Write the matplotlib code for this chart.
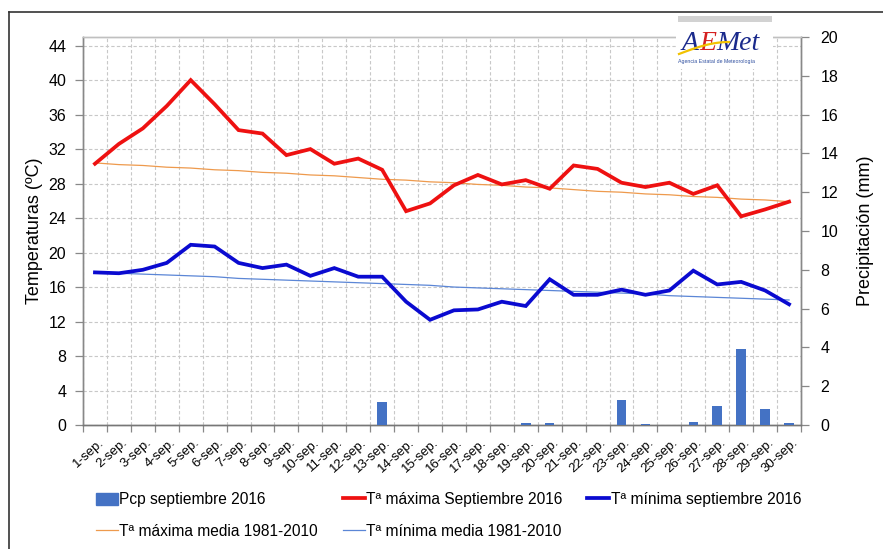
import matplotlib
matplotlib.use("Agg")
import matplotlib.pyplot as plt
import numpy as np
from matplotlib.lines import Line2D
from matplotlib.patches import Patch, Rectangle
from matplotlib.transforms import ScaledTranslation

plt.rcParams['font.family'] = ['Liberation Sans', 'DejaVu Sans']

days = ["1-sep.", "2-sep.", "3-sep.", "4-sep.", "5-sep.", "6-sep.", "7-sep.", "8-sep.",
        "9-sep.", "10-sep.", "11-sep.", "12-sep.", "13-sep.", "14-sep.", "15-sep.",
        "16-sep.", "17-sep.", "18-sep.", "19-sep.", "20-sep.", "21-sep.", "22-sep.",
        "23-sep.", "24-sep.", "25-sep.", "26-sep.", "27-sep.", "28-sep.", "29-sep.", "30-sep."]

tmax = [30.3, 32.6, 34.4, 37.0, 40.0, 37.2, 34.2, 33.8, 31.3, 32.0, 30.3, 30.9, 29.6, 24.8, 25.7,
        27.8, 29.0, 27.9, 28.4, 27.4, 30.1, 29.7, 28.1, 27.6, 28.1, 26.8, 27.8, 24.2, 25.0, 25.9]
tmin = [17.7, 17.6, 18.0, 18.8, 20.9, 20.7, 18.8, 18.2, 18.6, 17.3, 18.2, 17.2, 17.2, 14.3, 12.2,
        13.3, 13.4, 14.3, 13.8, 16.9, 15.1, 15.1, 15.7, 15.1, 15.6, 17.9, 16.3, 16.6, 15.6, 14.0]
tmax_media = [30.4, 30.2, 30.1, 29.9, 29.8, 29.6, 29.5, 29.3, 29.2, 29.0, 28.9, 28.7, 28.5, 28.4, 28.2,
              28.1, 27.9, 27.8, 27.6, 27.5, 27.3, 27.1, 27.0, 26.8, 26.7, 26.5, 26.4, 26.2, 26.1, 25.9]
tmin_media = [17.7, 17.6, 17.5, 17.4, 17.3, 17.2, 17.0, 16.9, 16.8, 16.7, 16.6, 16.5, 16.4, 16.3, 16.2,
              16.0, 15.9, 15.8, 15.7, 15.6, 15.5, 15.4, 15.3, 15.2, 15.0, 14.9, 14.8, 14.7, 14.6, 14.5]
pcp = [0, 0, 0, 0, 0, 0, 0, 0, 0, 0, 0, 0, 1.2, 0, 0, 0, 0, 0, 0.1, 0.1,
       0, 0, 1.3, 0.05, 0, 0.17, 1.0, 3.9, 0.82, 0.1]

temp_ticks = [0, 4, 8, 12, 16, 20, 24, 28, 32, 36, 40, 44]
pcp_ticks = [0, 2, 4, 6, 8, 10, 12, 14, 16, 18, 20]

W, H = 883, 549
fig = plt.figure(figsize=(W / 100, H / 100), dpi=100)
fig.patch.set_facecolor('white')

L, R, T, B = 83, 801, 37, 425
ax = fig.add_axes([L / W, 1 - B / H, (R - L) / W, (B - T) / H])
ax2 = ax.twinx()
ax.set_zorder(1)
ax2.set_zorder(2)
ax2.patch.set_visible(False)

x = np.arange(len(days))

ax.plot(x, tmax_media, color='#ee9a4d', lw=0.9, zorder=3)
ax.plot(x, tmin_media, color='#5b86d6', lw=0.9, zorder=3)
ax.plot(x, tmax, color='#ee1111', lw=2.7, zorder=4, solid_joinstyle='miter')
ax.plot(x, tmin, color='#0a0ad0', lw=2.7, zorder=4, solid_joinstyle='miter')

ax2.bar(x, pcp, width=0.4, color='#4472c4', zorder=3)

ax.set_xlim(-0.5, len(days) - 0.5)
ax.set_ylim(0, 45)
ax2.set_ylim(0, 20)
ax.set_yticks(temp_ticks)
ax2.set_yticks(pcp_ticks)

ax.set_xticks(x)
ax.set_xticklabels(days, rotation=42, ha='right', va='top', rotation_mode='anchor', fontsize=9.5)
ax.set_xticks(np.arange(-0.5, len(days), 1.0), minor=True)
ax.tick_params(axis='x', which='major', length=0, pad=8)
ax.tick_params(axis='x', which='minor', length=5, color='#888888', width=0.9)
for lab in ax.get_xticklabels():
    lab.set_transform(lab.get_transform() + ScaledTranslation(0.03, 0, fig.dpi_scale_trans))

ax.tick_params(axis='y', which='major', length=6, color='#888888', width=0.9, labelsize=11.5, pad=6)
ax2.tick_params(axis='y', which='major', length=6, color='#888888', width=0.9, labelsize=11.5, pad=8)

ax.grid(True, which='major', axis='y', color='#c8c8c8', lw=0.8, ls=(0, (3, 2)))
ax.grid(True, which='minor', axis='x', color='#c8c8c8', lw=0.8, ls=(0, (3, 2)))
ax.set_axisbelow(True)

for a in (ax, ax2):
    a.spines['left'].set_color('#888888')
    a.spines['right'].set_color('#888888')
    a.spines['bottom'].set_color('#777777')
    a.spines['top'].set_color('#c0c0c0')
    for s in a.spines.values():
        s.set_linewidth(1.0)

ax.set_ylabel('Temperaturas (ºC)', fontsize=13)
ax.yaxis.set_label_coords(-(L - 43) / (R - L), 0.5)
ax2.set_ylabel('Precipitación (mm)', fontsize=13, rotation=90)
ax2.yaxis.set_label_coords(1 + (857 - R) / (R - L), 0.5)

# legend
h_pcp = Patch(color='#4472c4')
h_tmax = Line2D([], [], color='#ee1111', lw=2.7)
h_tmin = Line2D([], [], color='#0a0ad0', lw=2.7)
h_tmaxm = Line2D([], [], color='#ee9a4d', lw=0.9)
h_tminm = Line2D([], [], color='#5b86d6', lw=0.9)
handles = [h_pcp, h_tmaxm, h_tmax, h_tminm, h_tmin]
labels = ['Pcp septiembre 2016', 'Tª máxima media 1981-2010', 'Tª máxima Septiembre 2016',
          'Tª mínima media 1981-2010', 'Tª mínima septiembre 2016']
fig.legend(handles, labels, ncol=3, loc='upper left', bbox_to_anchor=(96 / W, 1 - 492 / H),
           frameon=False, fontsize=11.2, handlelength=1.4, handleheight=0.8, handletextpad=0.1,
           columnspacing=1.6, labelspacing=1.1, borderaxespad=0, borderpad=0)

# figure frame lines
fig.add_artist(Line2D([9 / W, 1], [1 - 12 / H, 1 - 12 / H], color='#333333', lw=1.2, transform=fig.transFigure))
fig.add_artist(Line2D([9 / W, 9 / W], [0, 1 - 12 / H], color='#333333', lw=1.2, transform=fig.transFigure))

# logo
fig.add_artist(Rectangle((676 / W, 1 - 69 / H), 97 / W, 46 / H, transform=fig.transFigure,
                         facecolor='white', edgecolor='none', zorder=10))
fig.add_artist(Rectangle((678 / W, 1 - 22 / H), 94 / W, 6 / H, transform=fig.transFigure,
                         facecolor='#d2d2d2', edgecolor='none', zorder=11))
renderer = fig.canvas.get_renderer()
xpos = 682
for part, col in (('A', '#1a2a8c'), ('E', '#d42020'), ('Met', '#1a2a8c')):
    txt = fig.text(xpos / W, 1 - 44 / H, part, color=col, fontsize=20, style='italic',
                   family='Liberation Serif', va='center', ha='left', zorder=12)
    bb = txt.get_window_extent(renderer)
    xpos = bb.x1
t = np.linspace(0, 1, 30)
fig.add_artist(Line2D((679 + 50 * t) / W, 1 - (54 - 12 * np.sin(t * np.pi / 2)) / H,
                      color='#f2c200', lw=1.6, transform=fig.transFigure, zorder=13))
fig.text(717 / W, 1 - 62 / H, 'Agencia Estatal de Meteorología', color='#3050a0', fontsize=3.8,
         va='center', ha='center', zorder=12)

fig.savefig('out.png', dpi=100)
